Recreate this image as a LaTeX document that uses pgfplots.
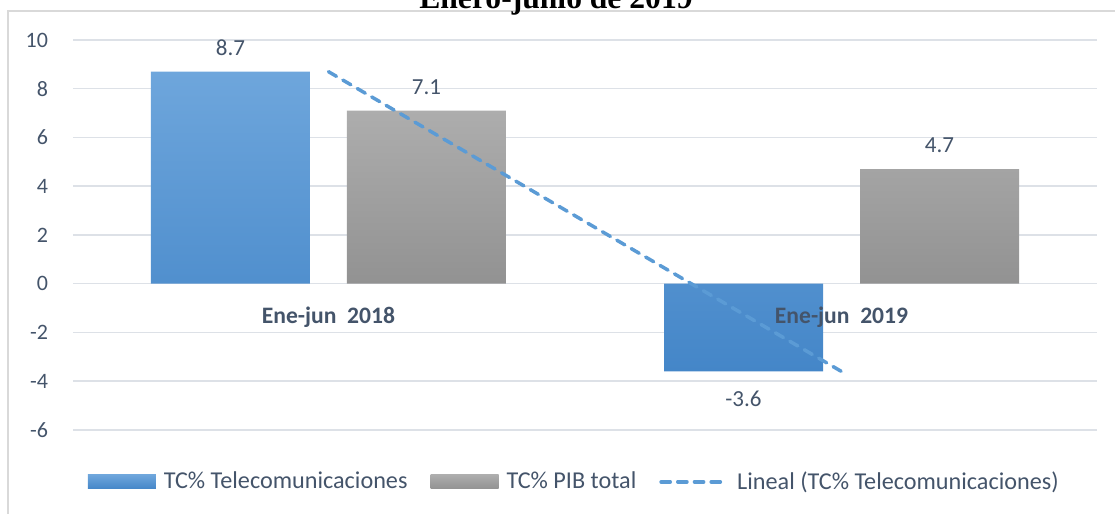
\documentclass[border=0pt]{standalone}
\usepackage{pgfplots}
\pgfplotsset{compat=1.18}
\usepackage{fontspec}
\setmainfont{Carlito}
\newfontfamily\titlefont{Liberation Serif}
\definecolor{txt}{HTML}{44546A}
\definecolor{gridc}{HTML}{DDE1E7}
\definecolor{frame}{HTML}{D9D9D9}
\definecolor{blueT}{HTML}{6EA6DC}
\definecolor{blueB}{HTML}{4486C8}
\definecolor{grayT}{HTML}{ADADAD}
\definecolor{grayB}{HTML}{929292}
\definecolor{trendc}{HTML}{5B9BD5}
\pgfplotsset{
  base/.style={
    at={(36.5pt,42pt)}, anchor=south west,
    scale only axis, width=512pt, height=195pt,
    xmin=-0.498, xmax=1.498, ymin=-6, ymax=10,
    axis line style={draw=none},
    major tick length=0pt,
    /pgf/number format/assume math mode=true,
  }
}
\begin{document}
\begin{tikzpicture}
\useasboundingbox (0pt,0pt) rectangle (557.5pt,257pt);
\draw[frame, line width=0.75pt] (4pt,-5pt) -- (4pt,251.5pt) -- (565pt,251.5pt);
\node[font=\titlefont\bfseries\fontsize{15.8}{18}\selectfont, anchor=base, inner sep=0pt] at (278pt,252.8pt) {Enero-junio de 2019};
\begin{axis}[
  base,
  ytick={-6,-4,...,10},
  xtick=\empty,
  yticklabel style={font=\fontsize{11}{13}\selectfont, text=txt, xshift=-9pt},
  ymajorgrids,
  grid style={gridc, line width=0.75pt},
  legend columns=3,
  legend style={draw=none, fill=none, at={(0.4905,-0.133)}, anchor=center,
    font=\fontsize{12.1}{14}\selectfont, text=txt,
    /tikz/every odd column/.append style={column sep=2pt},
    /tikz/every even column/.append style={column sep=9.5pt}},
  nodes near coords style={font=\fontsize{11.5}{13}\selectfont, text=txt, inner ysep=8.7pt, inner xsep=0pt, yshift=-0.8pt, /pgf/number format/fixed, /pgf/number format/precision=1},
]
\addplot[ybar, bar width=79.5pt, bar shift=-49pt, draw=none, top color=blueT, bottom color=blueB,
  nodes near coords, every node near coord/.append style={xshift=-49pt},
  legend image code/.code={\path[top color=blueT, bottom color=blueB, draw=none] (0pt,-3.5pt) rectangle (34pt,3.5pt);}]
  coordinates {(0,8.7) (1,-3.6)};
\addlegendentry{TC\% Telecomunicaciones}
\addplot[ybar, bar width=79.5pt, bar shift=49pt, draw=none, top color=grayT, bottom color=grayB,
  nodes near coords, every node near coord/.append style={xshift=49pt},
  legend image code/.code={\path[top color=grayT, bottom color=grayB, draw=none] (0pt,-3.5pt) rectangle (34pt,3.5pt);}]
  coordinates {(0,7.1) (1,4.7)};
\addlegendentry{TC\% PIB total}
\addplot[trendc, line width=1.75pt, dash pattern=on 4.6pt off 3.75pt, line cap=round,
  legend image code/.code={\draw[trendc, line width=1.75pt, dash pattern=on 4.6pt off 3.75pt, line cap=round] (0.9pt,0pt) -- (34.1pt,0pt);}]
  coordinates {(0,8.7) (1,-3.6)};
\addlegendentry{Lineal (TC\% Telecomunicaciones)}
\end{axis}
\begin{axis}[
  base,
  ytick=\empty,
  xtick={0,1},
  xticklabels={Ene-jun\ \ 2018, Ene-jun\ \ 2019},
  xticklabel style={anchor=center, yshift=56.5pt, font=\bfseries\fontsize{11.8}{14}\selectfont, text=txt},
]
\end{axis}
\end{tikzpicture}
\end{document}
